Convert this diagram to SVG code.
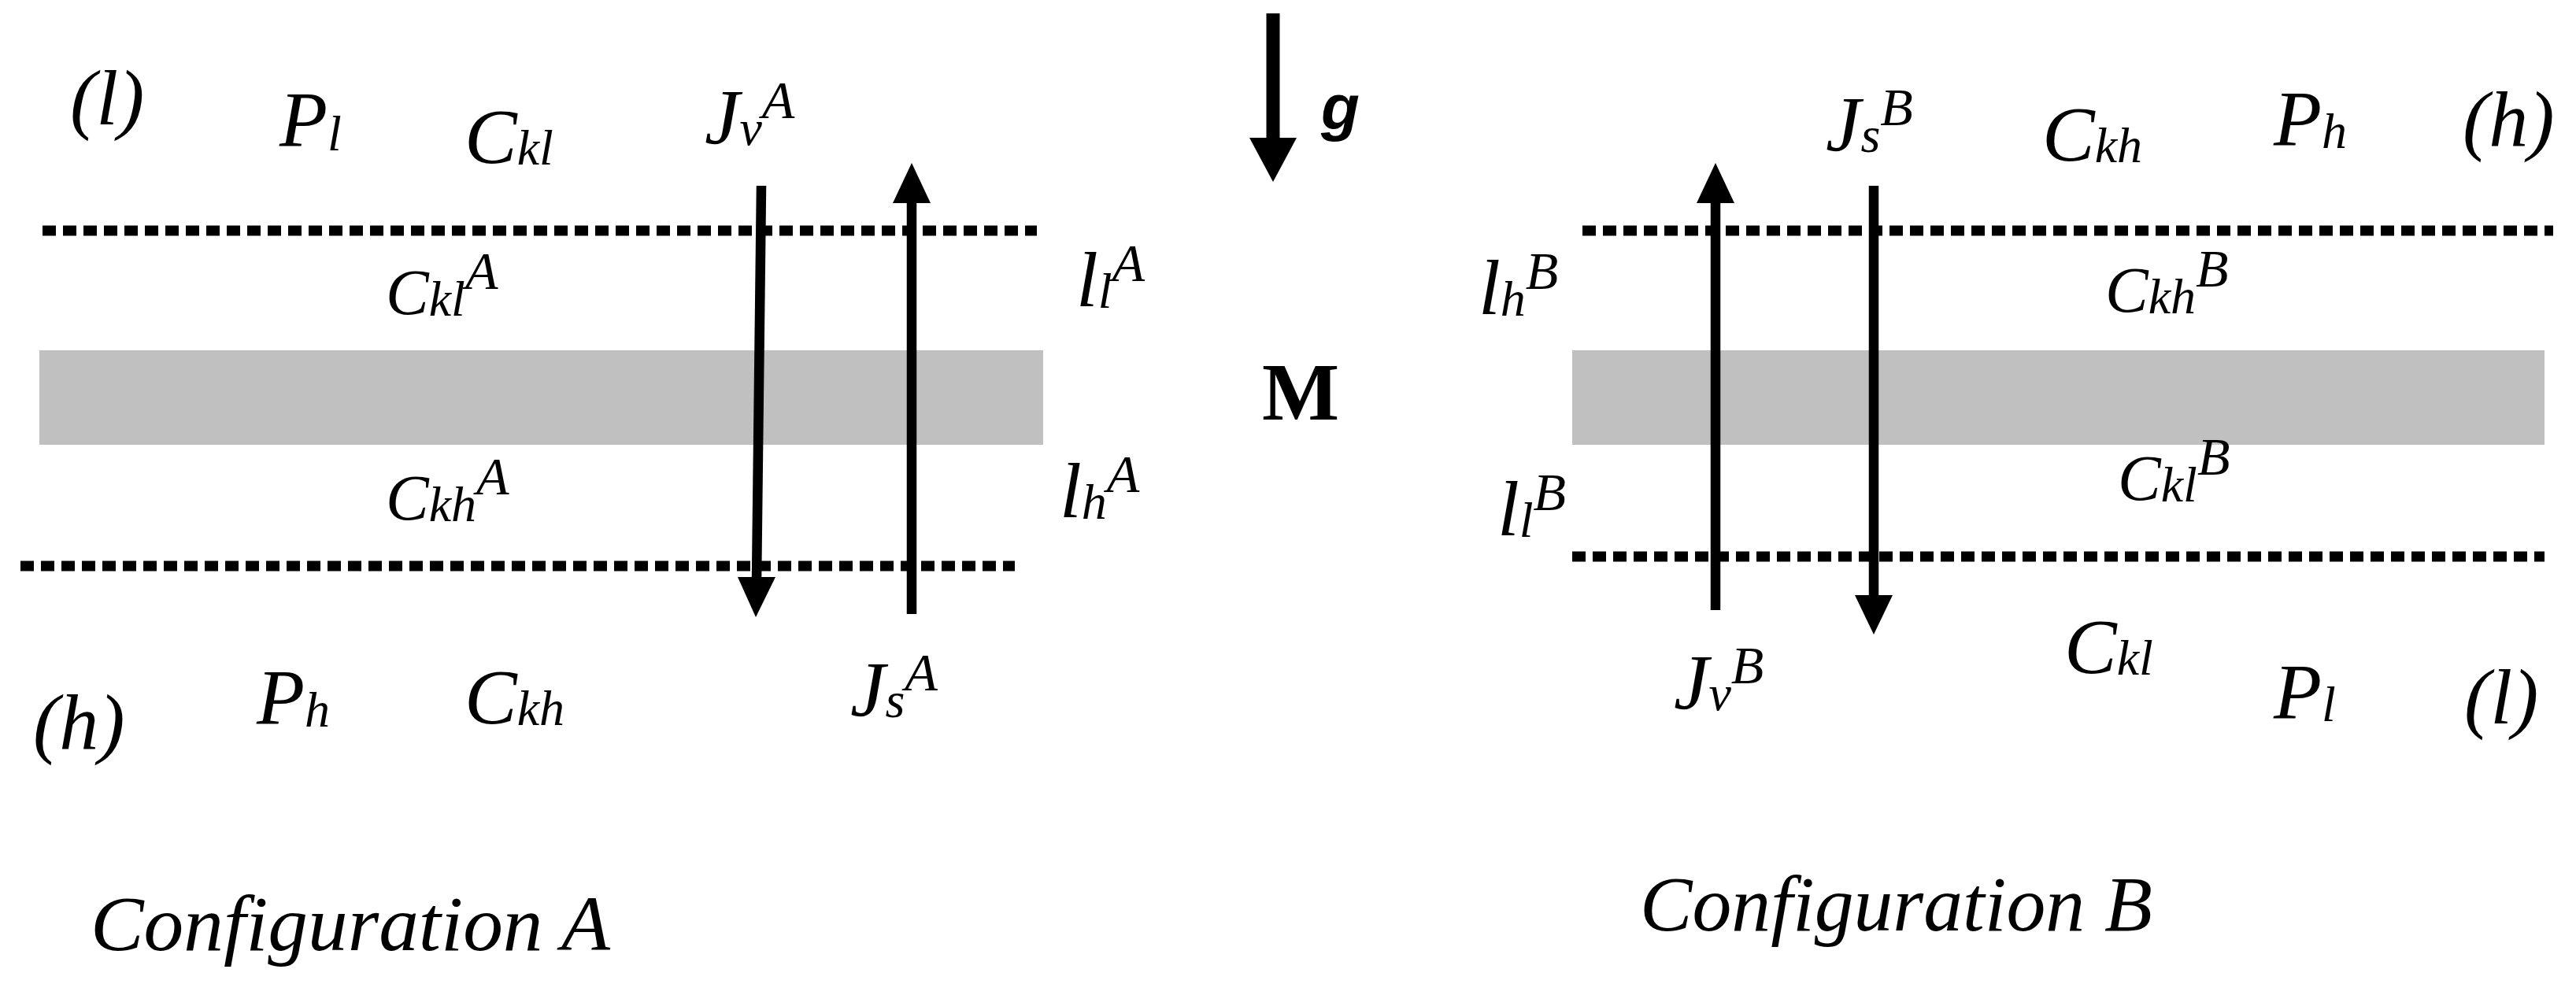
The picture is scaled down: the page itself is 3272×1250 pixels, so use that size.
<svg xmlns="http://www.w3.org/2000/svg" width="3272" height="1250" viewBox="0 0 3272 1250" font-family="'Liberation Serif', 'DejaVu Serif', serif">
<style>
.m{font-size:100px}.s{font-size:82px}
.sb{font-size:64px}.sp{font-size:68px}
.dot{stroke:#000;stroke-width:13;stroke-dasharray:17 9;fill:none}
.arr{stroke:#000;stroke-width:12.5;fill:none}
.head{fill:#000}
.band{fill:#c0c0c0}
</style>
<g id="configA">
<rect class="band" x="50" y="445" width="1275" height="120"/>
<line class="dot" x1="54" y1="293" x2="1317" y2="293"/>
<line class="dot" x1="26" y1="719" x2="1289" y2="719"/>
</g>
<g id="configB">
<rect class="band" x="1997" y="445" width="1235" height="120"/>
<line class="dot" x1="2010" y1="293" x2="3243" y2="293"/>
<line class="dot" x1="1997" y1="707" x2="3232" y2="707"/>
</g>
<g id="connectors">
<line class="arr" x1="967" y1="236" x2="961" y2="740"/>
<polygon class="head" points="937,733 985,733 960,784"/>
<line class="arr" x1="1158" y1="780" x2="1158" y2="250"/>
<polygon class="head" points="1134,258 1182,258 1158,207"/>
<line class="arr" x1="2179" y1="775" x2="2179" y2="250"/>
<polygon class="head" points="2155,258 2203,258 2179,207"/>
<line class="arr" x1="2380" y1="236" x2="2380" y2="760"/>
<polygon class="head" points="2356,756 2404,756 2380,806"/>
<line x1="1617" y1="17" x2="1617" y2="180" stroke="#000" stroke-width="17"/>
<polygon class="head" points="1587,175 1647,175 1617,231"/>
</g>
<g id="labelsA" font-family="Liberation Serif, serif" font-style="italic">
<text class="m" x="89" y="158">(l)</text>
<text class="m" x="355" y="185">P<tspan class="sb" dy="6">l</tspan></text>
<text class="m" x="590" y="207">C<tspan class="sb" dy="2">kl</tspan></text>
<text class="m" x="895" y="182">J<tspan class="sb" dy="2">v</tspan><tspan class="sp" dy="-34">A</tspan></text>
<text class="s" x="490" y="399">C<tspan class="sb" dy="2">kl</tspan><tspan class="sp" dy="-34">A</tspan></text>
<text class="m" x="1367" y="389">l<tspan class="sb" dy="2">l</tspan><tspan class="sp" dy="-34">A</tspan></text>
<text class="s" x="490" y="660">C<tspan class="sb" dy="2">kh</tspan><tspan class="sp" dy="-34">A</tspan></text>
<text class="m" x="1346" y="657">l<tspan class="sb" dy="2">h</tspan><tspan class="sp" dy="-34">A</tspan></text>
<text class="m" x="42" y="951">(h)</text>
<text class="m" x="326" y="919">P<tspan class="sb" dy="4">h</tspan></text>
<text class="m" x="590" y="919">C<tspan class="sb" dy="2">kh</tspan></text>
<text class="m" x="1080" y="909">J<tspan class="sb" dy="2">s</tspan><tspan class="sp" dy="-34">A</tspan></text>
<text class="m" x="115" y="1207" textLength="660" lengthAdjust="spacingAndGlyphs">Configuration A</text>
</g>
<g id="center">
<text x="1678" y="163" font-family="Liberation Sans, Arial, sans-serif" font-weight="bold" font-style="italic" font-size="80">g</text>
<text x="1603" y="533" font-family="Liberation Serif, serif" font-weight="bold" font-size="104">M</text>
</g>
<g id="labelsB" font-family="Liberation Serif, serif" font-style="italic">
<text class="m" x="2319" y="191">J<tspan class="sb" dy="2">s</tspan><tspan class="sp" dy="-34">B</tspan></text>
<text class="m" x="2594" y="204">C<tspan class="sb" dy="2">kh</tspan></text>
<text class="m" x="2888" y="184">P<tspan class="sb" dy="4">h</tspan></text>
<text class="m" x="3128" y="185">(h)</text>
<text class="m" x="1878" y="399">l<tspan class="sb" dy="2">h</tspan><tspan class="sp" dy="-34">B</tspan></text>
<text class="s" x="2674" y="396">C<tspan class="sb" dy="2">kh</tspan><tspan class="sp" dy="-34">B</tspan></text>
<text class="s" x="2690" y="635">C<tspan class="sb" dy="2">kl</tspan><tspan class="sp" dy="-34">B</tspan></text>
<text class="m" x="1902" y="680">l<tspan class="sb" dy="2">l</tspan><tspan class="sp" dy="-34">B</tspan></text>
<text class="m" x="2126" y="900">J<tspan class="sb" dy="2">v</tspan><tspan class="sp" dy="-34">B</tspan></text>
<text class="m" x="2622" y="855">C<tspan class="sb" dy="2">kl</tspan></text>
<text class="m" x="2888" y="912">P<tspan class="sb" dy="4">l</tspan></text>
<text class="m" x="3130" y="919">(l)</text>
<text class="m" x="2083" y="1182" textLength="651" lengthAdjust="spacingAndGlyphs">Configuration B</text>
</g>
</svg>
